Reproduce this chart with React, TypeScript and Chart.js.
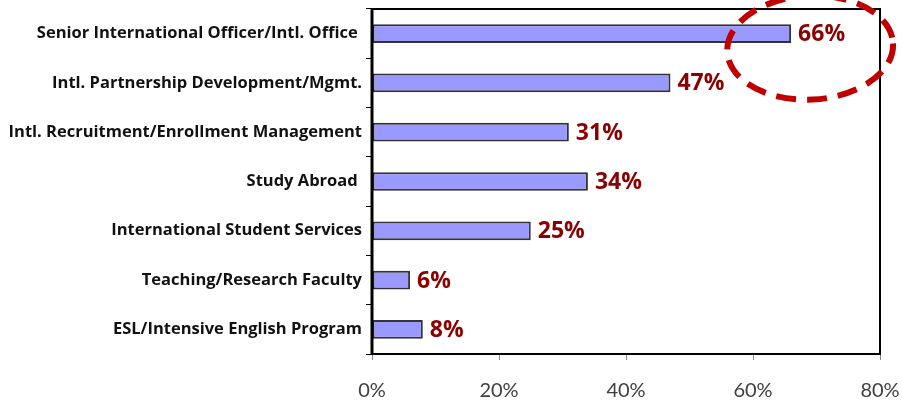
import React, { useEffect, useRef } from "react";
import { Chart, registerables } from "chart.js";

Chart.register(...registerables);

const categories = [
  "Senior International Officer/Intl. Office ",
  "Intl. Partnership Development/Mgmt.",
  "Intl. Recruitment/Enrollment Management",
  "Study Abroad ",
  "International Student Services",
  "Teaching/Research Faculty",
  "ESL/Intensive English Program",
];
const values = [0.66, 0.47, 0.31, 0.34, 0.25, 0.06, 0.08];
const valueLabels = ["66%", "47%", "31%", "34%", "25%", "6%", "8%"];
const highlightIndex = 0;

const FONT = "Lato, 'Open Sans', sans-serif";
const BOLD_FONT = "'Open Sans', Lato, sans-serif";

const boxPlugin = {
  id: "boxPlugin",
  afterDraw(chart: any) {
    const { ctx, chartArea } = chart;
    ctx.save();
    ctx.strokeStyle = "#000";
    ctx.lineWidth = 2;
    ctx.strokeRect(chartArea.left, chartArea.top, chartArea.right - chartArea.left, chartArea.bottom - chartArea.top);
    ctx.lineWidth = 3;
    ctx.beginPath();
    ctx.moveTo(chartArea.left, chartArea.top - 1);
    ctx.lineTo(chartArea.left, chartArea.bottom + 1);
    ctx.stroke();
    ctx.restore();
  },
};

const labelPlugin = {
  id: "labelPlugin",
  afterDatasetsDraw(chart: any) {
    const { ctx } = chart;
    const meta = chart.getDatasetMeta(0);
    ctx.save();
    ctx.fillStyle = "#8B0000";
    ctx.font = `bold 23px ${BOLD_FONT}`;
    ctx.textBaseline = "middle";
    ctx.textAlign = "left";
    meta.data.forEach((bar: any, i: number) => {
      ctx.fillText(valueLabels[i], bar.x + 7, bar.y + 1);
    });
    ctx.restore();
  },
  afterDraw(chart: any) {
    const { ctx } = chart;
    const xs = chart.scales.x;
    const ys = chart.scales.y;
    const cx = xs.getPixelForValue(values[highlightIndex] + 0.03);
    const cy = ys.getPixelForValue(highlightIndex) + 14;
    ctx.save();
    ctx.strokeStyle = "#C00000";
    ctx.lineWidth = 6;
    ctx.setLineDash([20, 11]);
    ctx.beginPath();
    ctx.ellipse(cx, cy, 83, 52, -0.05, 0, Math.PI * 2);
    ctx.stroke();
    ctx.restore();
  },
};

export default function App() {
  const ref = useRef<HTMLCanvasElement>(null);
  useEffect(() => {
    const chart = new Chart(ref.current!, {
      type: "bar",
      data: {
        labels: categories,
        datasets: [
          {
            data: values,
            backgroundColor: "#9999FF",
            borderColor: "#333333",
            borderWidth: 2,
            borderSkipped: false,
            barPercentage: 0.76,
            categoryPercentage: 0.5,
          },
        ],
      },
      options: {
        indexAxis: "y",
        animation: false,
        responsive: false,
        maintainAspectRatio: false,
        layout: { padding: { top: 9, right: 22, left: 0, bottom: 0 } },
        plugins: { legend: { display: false }, tooltip: { enabled: false } },
        scales: {
          x: {
            min: 0,
            max: 0.8,
            ticks: {
              stepSize: 0.2,
              callback: (v: any) => Math.round(Number(v) * 100) + "%",
              color: "#404040",
              font: { family: FONT, size: 20 },
              padding: 19,
            },
            grid: { drawOnChartArea: false, drawTicks: true, tickLength: 6, color: "#888" },
            border: { display: false },
            afterFit: (s: any) => {
              s.height = 47;
              s.paddingLeft = 0;
              s.paddingRight = 0;
            },
          },
          y: {
            ticks: {
              color: "#111",
              font: { family: BOLD_FONT, size: 16.5, weight: "bold" },
              padding: 4,
              autoSkip: false,
            },
            grid: { drawOnChartArea: false, drawTicks: true, tickLength: 6, color: "#000", offset: true },
            border: { display: false },
            afterFit: (s: any) => {
              s.width = 372;
              s.paddingTop = 0;
              s.paddingBottom = 0;
            },
          },
        },
      },
      plugins: [boxPlugin, labelPlugin],
    });
    return () => chart.destroy();
  }, []);
  return (
    <div style={{ position: "fixed", left: 0, top: 0, width: 902, height: 401, background: "#fff" }}>
      <canvas ref={ref} width={902} height={401} />
    </div>
  );
}
